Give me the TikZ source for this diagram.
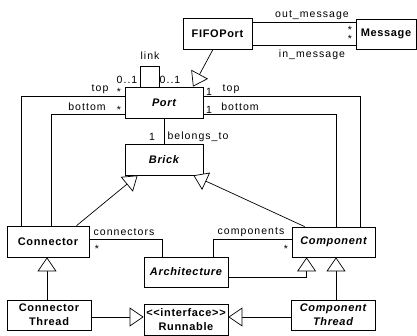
\documentclass[tikz,border=0pt]{standalone}
\usepackage{fontspec}
\setmainfont{Liberation Sans}
\newfontfamily\labfont[LetterSpace=10]{Liberation Sans}
\newfontfamily\clsfont[LetterSpace=6]{Liberation Sans}
\usetikzlibrary{arrows.meta,calc}
\tikzset{
  cls/.style={draw,line width=0.8pt,fill=white,inner sep=0pt,align=center,font=\clsfont\fontsize{11}{14}\selectfont\bfseries},
  acls/.style={cls,font=\clsfont\fontsize{11}{14}\selectfont\bfseries\itshape},
  lab/.style={font=\labfont\fontsize{10.5}{11}\selectfont,inner sep=0pt},
  assoc/.style={draw,line width=0.7pt},
  gen/.style={assoc,-{Triangle[open,fill=white,length=14pt,width=19pt]}},
}

\begin{document}
\begin{tikzpicture}[x=1pt,y=-1pt]
\useasboundingbox (0,0) rectangle (417,336);
% classes
\node[cls,minimum width=69pt,minimum height=31pt] (fifo) at (217.5,33.5) {FIFOPort};
\node[cls,minimum width=60pt,minimum height=30pt] (msg) at (386,34) {Message};
\node[acls,minimum width=78pt,minimum height=31pt] (port) at (164,102.5) {Port};
\node[acls,minimum width=78pt,minimum height=31pt] (brick) at (164,159.5) {Brick};
\node[cls,minimum width=82pt,minimum height=31pt] (conn) at (48,241.5) {Connector};
\node[acls,minimum width=83pt,minimum height=30pt] (comp) at (333.5,242) {Component};
\node[acls,minimum width=84pt,minimum height=30pt] (arch) at (186,272) {Architecture};
\node[cls,minimum width=84pt,minimum height=30pt] (cthr) at (49,315) {Connector\\Thread};
\node[cls,minimum width=84pt,minimum height=31pt] (run) at (186,319.5) {\textless\textless interface\textgreater\textgreater\\Runnable};
\node[acls,minimum width=84pt,minimum height=30pt] (pthr) at (333,315) {Component\\Thread};

% associations
\draw[assoc] ([yshift=-5pt]fifo.north east) -- ([yshift=-5pt]fifo.north east -| msg.west);
\draw[assoc] ([yshift=4pt]fifo.south east) -- ([yshift=4pt]fifo.south east -| msg.west);
\draw[assoc] ([xshift=-24pt]port.north) -- ++(0,-20) -| ([xshift=-5pt]port.north);
\draw[assoc] ([yshift=-10pt]port.north west) -| ([xshift=15pt]conn.north west);
\draw[assoc] ([yshift=4pt]port.south west) -| ([xshift=45pt]conn.north west);
\draw[assoc] ([yshift=-10pt]port.north east) -| ([xshift=-15pt]comp.north east);
\draw[assoc] ([yshift=4pt]port.south east) -| ([xshift=-39pt]comp.north east);
\draw[assoc] (port.south) -- (brick.north);
\draw[assoc] ([yshift=2.5pt]conn.east) -| ([xshift=19pt]arch.north west);
\draw[assoc] ([yshift=3pt]comp.west) -| ([xshift=-15pt]arch.north east);

% generalizations
\draw[gen] ([xshift=-4.5pt]fifo.south) -- ([xshift=29pt]port.north);
\draw[gen] ([xshift=70pt]conn.north west) -- ([xshift=13pt]brick.south west);
\draw[gen] ([xshift=13pt]comp.north west) -- ([xshift=-10pt]brick.south east);
\draw[gen] ([yshift=-5pt]arch.east) -| ([xshift=15pt]comp.south west);
\draw[gen] ([xshift=3pt]pthr.north) -- ([xshift=3pt]pthr.north |- comp.south);
\draw[gen] ([xshift=-2pt]cthr.north) -- ([xshift=-2pt]cthr.north |- conn.south);
\draw[gen] ([yshift=-2pt]cthr.east) -- ([yshift=-2pt]cthr.east -| run.west);
\draw[gen] ([yshift=-2pt]pthr.west) -- ([yshift=-2pt]pthr.west -| run.east);

% role labels
\node[lab] (outm) at (312,15) {out\_message};
\node[lab] (inm) at (312,55) {in\_message};
\node[lab,anchor=north] (outs) at (350,26.5) {*};
\node[lab,anchor=north] (ins) at (350,34.8) {*};
\node[lab] (link) at (150,56) {link};
\node[lab] (lk1) at (127,80) {0..1};
\node[lab] (lk2) at (170,80) {0..1};
\node[lab] (ltop) at (100,89) {top};
\node[lab] (ltops) at (119,92) {*};
\node[lab] (lbot) at (87,107) {bottom};
\node[lab] (lbots) at (119,110) {*};
\node[lab] (rtop1) at (209,92) {1};
\node[lab] (rtop) at (231,89) {top};
\node[lab] (rbot1) at (209,110) {1};
\node[lab] (rbot) at (240,107) {bottom};
\node[lab] (bel1) at (152,137) {1};
\node[lab] (bel) at (198,137) {belongs\_to};
\node[lab] (cons) at (124,232) {connectors};
\node[lab] (conss) at (97,249) {*};
\node[lab] (coms) at (251,232) {components};
\node[lab] (comss) at (286,249) {*};
\end{tikzpicture}
\end{document}
